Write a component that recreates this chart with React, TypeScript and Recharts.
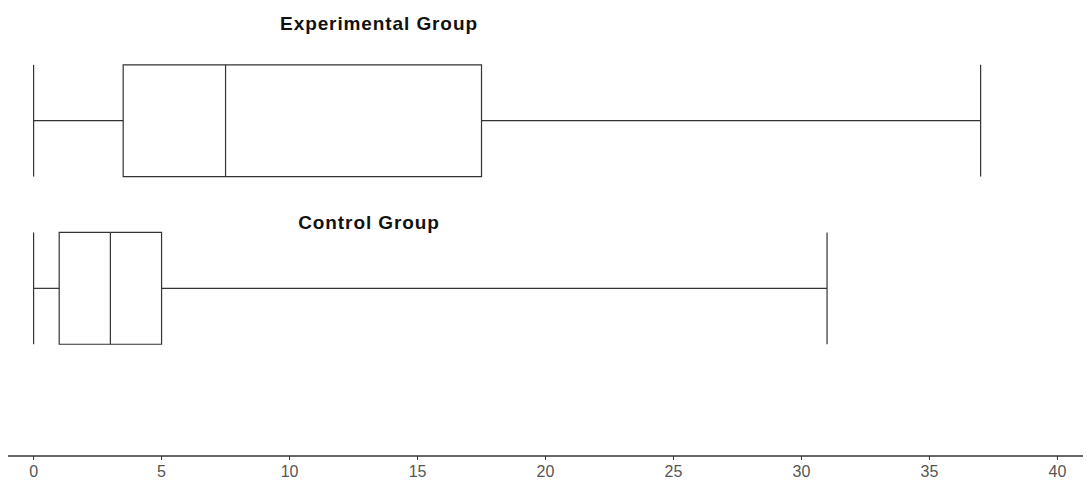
import React from 'react'
import {
  ComposedChart,
  XAxis,
  YAxis,
  Scatter,
  ReferenceArea,
  ReferenceLine,
} from 'recharts'

// five-number summaries, one per group
const groups = ['Experimental Group', 'Control Group']
const mins = [0, 0]
const q1s = [3.5, 1]
const medians = [7.5, 3]
const q3s = [17.5, 5]
const maxs = [37, 31]
// vertical slot of each group on the hidden y axis
const rows = [2, 1]

const xTicks = [0, 5, 10, 15, 20, 25, 30, 35, 40]

const HALF = 1 / 3
const STROKE = '#333'
const W = 1086
const H = 481

const boxes = groups.map((name, i) => ({
  name,
  row: rows[i],
  min: mins[i],
  q1: q1s[i],
  median: medians[i],
  q3: q3s[i],
  max: maxs[i],
}))

const seg = (x1: number, y1: number, x2: number, y2: number) => [
  { x: x1, y: y1 },
  { x: x2, y: y2 },
]

export default function App() {
  return (
    <div style={{ position: 'absolute', left: 0, top: 0, width: W, height: H, background: '#fff' }}>
      <ComposedChart
        width={W}
        height={H}
        data={boxes}
        margin={{ top: 0, right: 3, left: 8, bottom: 0 }}
      >
        <XAxis
          type="number"
          dataKey="median"
          domain={[-1, 41]}
          ticks={xTicks}
          allowDataOverflow
          height={25}
          tickSize={4}
          tickMargin={6}
          axisLine={{ stroke: STROKE, strokeWidth: 1.3 }}
          tickLine={{ stroke: STROKE, strokeWidth: 1 }}
          tick={{ fontSize: 16, fill: '#555', fontFamily: 'Liberation Sans, Arial, sans-serif' }}
        />
        <YAxis type="number" dataKey="row" domain={[0, 2.72]} hide />
        <Scatter data={boxes} dataKey="row" fill="none" shape={() => <g />} isAnimationActive={false} />
        {boxes.map((b) => (
          <React.Fragment key={b.name}>
            {/* whiskers */}
            <ReferenceLine segment={seg(b.min, b.row, b.q1, b.row)} stroke={STROKE} strokeWidth={1.2} ifOverflow="visible" />
            <ReferenceLine segment={seg(b.q3, b.row, b.max, b.row)} stroke={STROKE} strokeWidth={1.2} ifOverflow="visible" />
            {/* end caps */}
            <ReferenceLine segment={seg(b.min, b.row - HALF, b.min, b.row + HALF)} stroke={STROKE} strokeWidth={1.2} ifOverflow="visible" />
            <ReferenceLine segment={seg(b.max, b.row - HALF, b.max, b.row + HALF)} stroke={STROKE} strokeWidth={1.2} ifOverflow="visible" />
            {/* box */}
            <ReferenceArea
              x1={b.q1}
              x2={b.q3}
              y1={b.row - HALF}
              y2={b.row + HALF}
              fill="#fff"
              fillOpacity={1}
              stroke={STROKE}
              strokeWidth={1.2}
              ifOverflow="visible"
            />
            {/* median */}
            <ReferenceLine segment={seg(b.median, b.row - HALF, b.median, b.row + HALF)} stroke={STROKE} strokeWidth={1.2} ifOverflow="visible" />
          </React.Fragment>
        ))}
      </ComposedChart>
      <svg width={W} height={H} style={{ position: 'absolute', left: 0, top: 0, pointerEvents: 'none' }}>
        <g fontFamily="Liberation Sans, Arial, sans-serif" fontSize={19} fontWeight="bold" fill="#111" textAnchor="middle" letterSpacing={0.9}>
          <text x={379} y={30}>Experimental Group</text>
          <text x={369} y={229}>Control Group</text>
        </g>
      </svg>
    </div>
  )
}
